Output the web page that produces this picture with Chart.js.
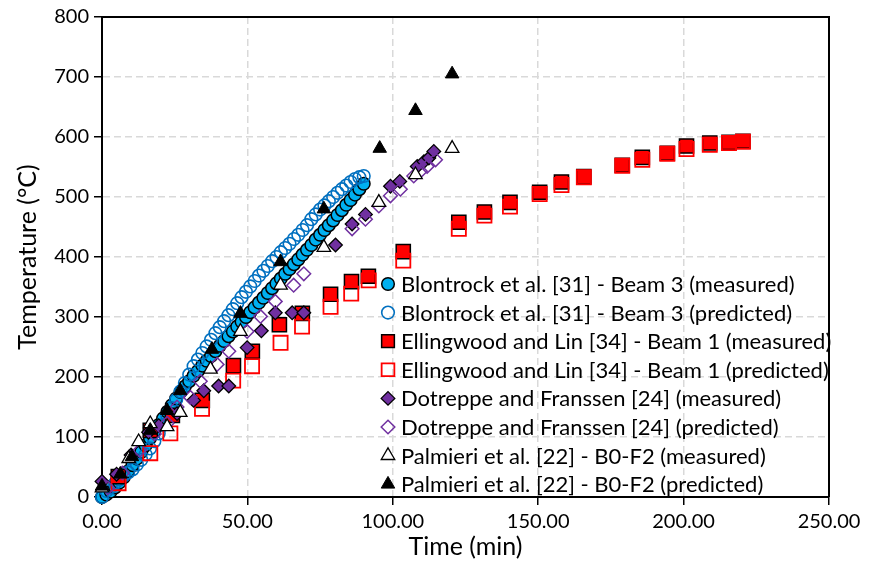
<!DOCTYPE html>
<html lang="en">
<head>
  <meta charset="UTF-8">
  <title>Temperature vs Time</title>
  <style>
    body { margin: 0; background: #fff; }
    .chart-box { width: 873px; height: 561px; }
  </style>
</head>
<body>
  <div class="chart-box">
    <canvas id="tempChart" width="873" height="561"></canvas>
  </div>

  <script src="https://cdn.jsdelivr.net/npm/chart.js"></script>
  <script>
    // series data (time in min, temperature in degC)
    const blontrockMeasTime = [0, 1.5, 3, 4.5, 6, 7.5, 9, 10.5, 12, 13.5, 15, 16.5, 18, 19.5, 21, 22.5, 24, 25.5, 27, 28.5,
      30, 31.5, 33, 34.5, 36, 37.5, 39, 40.5, 42, 43.5, 45, 46.5, 48, 49.5, 51, 52.5, 54, 55.5, 57, 58.5,
      60, 61.5, 63, 64.5, 66, 67.5, 69, 70.5, 72, 73.5, 75, 76.5, 78, 79.5, 81, 82.5, 84, 85.5, 87, 88.5, 90];
    const blontrockMeasTemp = [0, 4, 9, 16, 24, 33, 43, 53, 64, 75, 86, 98, 109, 120, 131, 142, 153, 164, 175, 184,
      193, 202, 210, 219, 227, 235, 243, 252, 260, 268, 276, 284, 292, 300, 308, 316, 324, 332, 340, 348,
      356, 364, 372, 380, 388, 396, 404, 412, 420, 429, 437, 445, 453, 461, 470, 478, 487, 495, 504, 513, 522];

    const blontrockPredTime = [0, 1.5, 3, 4.5, 6, 7.5, 9, 10.5, 12, 13.5, 15, 16.5, 18, 19.5, 21, 22.5, 24, 25.5, 27, 28.5,
      30, 31.5, 33, 34.5, 36, 37.5, 39, 40.5, 42, 43.5, 45, 46.5, 48, 49.5, 51, 52.5, 54, 55.5, 57, 58.5,
      60, 61.5, 63, 64.5, 66, 67.5, 69, 70.5, 72, 73.5, 75, 76.5, 78, 79.5, 81, 82.5, 84, 85.5, 87, 88.5, 90];
    const blontrockPredTemp = [0, 10, 16, 23, 29, 36, 41, 46, 54, 62, 71, 81, 93, 106, 120, 134, 148, 162, 176, 190,
      204, 218, 229, 240, 251, 262, 273, 283, 293, 303, 313, 323, 333, 342, 351, 360, 369, 377, 385, 393,
      400, 408, 415, 422, 430, 437, 445, 453, 463, 471, 479, 486, 493, 500, 507, 513, 519, 525, 530, 533, 535];

    const ellingwoodMeasTime = [5.6, 16.6, 24.2, 34.5, 45.2, 51.7, 61, 68.9, 78.6, 85.8, 91.6, 103.6, 122.7, 131.5,
      140.3, 150.5, 158, 165.7, 178.9, 185.8, 194.4, 201, 209, 215.6, 220.4];
    const ellingwoodMeasTemp = [34, 111, 136, 161, 219, 243, 287, 306, 338, 359, 368, 409, 458, 475,
      491, 508, 525, 534, 553, 566, 573, 585, 590, 591, 593];

    const ellingwoodPredTime = [5.7, 16.6, 23.5, 34.4, 45.1, 51.6, 61.4, 68.8, 78.6, 85.7, 91.7, 103.6, 122.7, 131.5,
      140.3, 150.5, 158, 165.7, 178.9, 185.8, 194.4, 201, 209, 215.6, 220.4];
    const ellingwoodPredTemp = [23, 73, 106, 147, 194, 218, 257, 284, 317, 339, 361, 394, 447, 469,
      484, 505, 520, 533, 552, 562, 572, 580, 587, 590, 592];

    const dotreppeMeasTime = [0, 5, 10, 16, 19.5, 25.8, 31.5, 35, 40.1, 43.6, 49.9, 54.8, 59.6, 65.4, 69.4,
      80.3, 86, 90.6, 99.2, 102.4, 108.4, 110.7, 112.4, 114.1];
    const dotreppeMeasTemp = [26, 38, 70, 108, 119, 139, 161, 177, 185, 185, 249, 277, 307, 307, 307,
      420, 455, 471, 518, 526, 551, 559, 565, 576];

    const dotreppePredTime = [2, 7, 13, 18, 22.4, 25.8, 30.4, 33.8, 39.6, 43.6, 49.9, 54.5, 59.6, 65.9, 69.4,
      86, 90.6, 95.2, 99.2, 102.6, 107.2, 109.5, 111.8, 114.7];
    const dotreppePredTemp = [15, 40, 78, 105, 123, 150, 166, 193, 221, 243, 276, 301, 326, 353, 372,
      447, 463, 485, 502, 513, 535, 543, 551, 562];

    const palmieriMeasTime = [0, 9.2, 12.6, 16.6, 22.4, 26.9, 37.3, 47.6, 61.4, 76.3, 95.2, 107.8, 120.4];
    const palmieriMeasTemp = [15, 64, 92, 122, 117, 141, 213, 276, 353, 416, 491, 537, 581];

    const palmieriPredTime = [0, 6.3, 10.3, 16.6, 22.4, 26.9, 37.8, 47.6, 61.4, 76.3, 95.5, 107.8, 120.4];
    const palmieriPredTemp = [18, 38, 67, 111, 144, 177, 246, 306, 392, 480, 581, 644, 705];

    const seriesLabels = [
      'Blontrock et al. [31] - Beam 3 (measured)',
      'Blontrock et al. [31] - Beam 3 (predicted)',
      'Ellingwood and Lin [34] - Beam 1 (measured)',
      'Ellingwood and Lin [34] - Beam 1 (predicted)',
      'Dotreppe and Franssen [24] (measured)',
      'Dotreppe and Franssen [24] (predicted)',
      'Palmieri et al. [22] - B0-F2 (measured)',
      'Palmieri et al. [22] - B0-F2 (predicted)'
    ];
    const xTicks = [0, 50, 100, 150, 200, 250];
    const yTicks = [0, 100, 200, 300, 400, 500, 600, 700, 800];

    const FONT = 'Lato, "Open Sans", sans-serif';

    function toPoints(xs, ys) {
      return xs.map((x, i) => ({ x: x, y: ys[i] }));
    }

    const styles = [
      { pointStyle: 'circle', radius: 6.3, bg: '#00B0F0', border: '#000000', bw: 1.5 },
      { pointStyle: 'circle', radius: 6.3, bg: 'rgba(0,0,0,0)', border: '#0070C0', bw: 1.6 },
      { pointStyle: 'rect', radius: 10, bg: '#FF0000', border: '#000000', bw: 1.5 },
      { pointStyle: 'rect', radius: 10, bg: 'rgba(0,0,0,0)', border: '#FF0000', bw: 1.8 },
      { pointStyle: 'rectRot', radius: 6.8, bg: '#7030A0', border: '#000000', bw: 1.3 },
      { pointStyle: 'rectRot', radius: 6.8, bg: 'rgba(0,0,0,0)', border: '#7030A0', bw: 1.5 },
      { pointStyle: 'triangle', radius: 7.8, bg: '#FFFFFF', border: '#000000', bw: 1.3 },
      { pointStyle: 'triangle', radius: 7.8, bg: '#000000', border: '#000000', bw: 1 }
    ];

    const seriesData = [
      toPoints(blontrockMeasTime, blontrockMeasTemp),
      toPoints(blontrockPredTime, blontrockPredTemp),
      toPoints(ellingwoodMeasTime, ellingwoodMeasTemp),
      toPoints(ellingwoodPredTime, ellingwoodPredTemp),
      toPoints(dotreppeMeasTime, dotreppeMeasTemp),
      toPoints(dotreppePredTime, dotreppePredTemp),
      toPoints(palmieriMeasTime, palmieriMeasTemp),
      toPoints(palmieriPredTime, palmieriPredTemp)
    ];

    const datasets = seriesData.map((pts, i) => ({
      label: seriesLabels[i],
      data: pts,
      pointStyle: styles[i].pointStyle,
      pointRadius: styles[i].radius,
      pointHoverRadius: styles[i].radius,
      backgroundColor: styles[i].bg,
      borderColor: styles[i].border,
      pointBorderWidth: styles[i].bw,
      showLine: false,
      clip: false,
      order: seriesData.length - i   // later series drawn on top, like Excel
    }));

    // top/right frame lines of the plot area
    const framePlugin = {
      id: 'frame',
      beforeDatasetsDraw(chart) {
        const a = chart.chartArea;
        const ctx = chart.ctx;
        ctx.save();
        ctx.strokeStyle = '#000';
        ctx.lineWidth = 2;
        ctx.beginPath();
        ctx.moveTo(a.left, a.top);
        ctx.lineTo(a.right, a.top);
        ctx.lineTo(a.right, a.bottom);
        ctx.stroke();
        ctx.restore();
      }
    };

    // legend drawn inside the plot area, bottom right
    const innerLegend = {
      id: 'innerLegend',
      afterDraw(chart) {
        const ctx = chart.ctx;
        const a = chart.chartArea;
        const markerX = a.left + 286;
        const textX = a.left + 299;
        const firstY = a.top + 267;
        const rowH = 28.6;
        ctx.save();
        ctx.font = '22px ' + FONT;
        ctx.textBaseline = 'middle';
        ctx.textAlign = 'left';
        chart.data.datasets.forEach((ds, i) => {
          const y = firstY + i * rowH;
          ctx.fillStyle = ds.backgroundColor;
          ctx.strokeStyle = ds.borderColor;
          ctx.lineWidth = ds.pointBorderWidth;
          Chart.helpers.drawPoint(ctx, {
            pointStyle: ds.pointStyle,
            radius: ds.pointStyle === 'rect' ? 9 : ds.pointRadius,
            rotation: 0,
            borderWidth: ds.pointBorderWidth
          }, markerX, y);
          ctx.fillStyle = '#000';
          ctx.fillText(ds.label, textX, y + 1);
        });
        ctx.restore();
      }
    };

    const ctx = document.getElementById('tempChart').getContext('2d');
    new Chart(ctx, {
      type: 'scatter',
      data: { datasets: datasets },
      options: {
        responsive: false,
        animation: false,
        devicePixelRatio: 1,
        layout: { padding: { top: 12, right: 44, left: 0, bottom: 0 } },
        plugins: {
          legend: { display: false },
          tooltip: { enabled: false }
        },
        scales: {
          x: {
            type: 'linear',
            min: 0,
            max: 250,
            afterBuildTicks: (scale) => { scale.ticks = xTicks.map(v => ({ value: v })); },
            afterFit: (scale) => { scale.height = 64; },
            ticks: {
              color: '#000',
              padding: 5,
              maxRotation: 0,
              font: { family: FONT, size: 20 },
              callback: (v) => Number(v).toFixed(2)
            },
            grid: {
              color: '#d9d9d9',
              lineWidth: 1.5,
              tickLength: 8,
              tickColor: '#000',
              tickWidth: 1.5,
              tickBorderDash: []
            },
            border: { display: true, color: '#000', width: 2, dash: [7, 4] },
            title: {
              display: true,
              text: 'Time (min)',
              color: '#000',
              font: { family: FONT, size: 25 },
              padding: { top: 0, bottom: -1 }
            }
          },
          y: {
            type: 'linear',
            min: 0,
            max: 800,
            afterBuildTicks: (scale) => { scale.ticks = yTicks.map(v => ({ value: v })); },
            afterFit: (scale) => { scale.width = 102; },
            ticks: {
              color: '#000',
              padding: 5,
              font: { family: FONT, size: 20 }
            },
            grid: {
              color: '#d9d9d9',
              lineWidth: 1.5,
              tickLength: 8,
              tickColor: '#000',
              tickWidth: 1.5,
              tickBorderDash: []
            },
            border: { display: true, color: '#000', width: 2, dash: [7, 4] },
            title: {
              display: true,
              text: 'Temperature (°C)',
              color: '#000',
              font: { family: FONT, size: 25 },
              padding: { top: 13, bottom: 0 }
            }
          }
        }
      },
      plugins: [framePlugin, innerLegend]
    });
  </script>
</body>
</html>
